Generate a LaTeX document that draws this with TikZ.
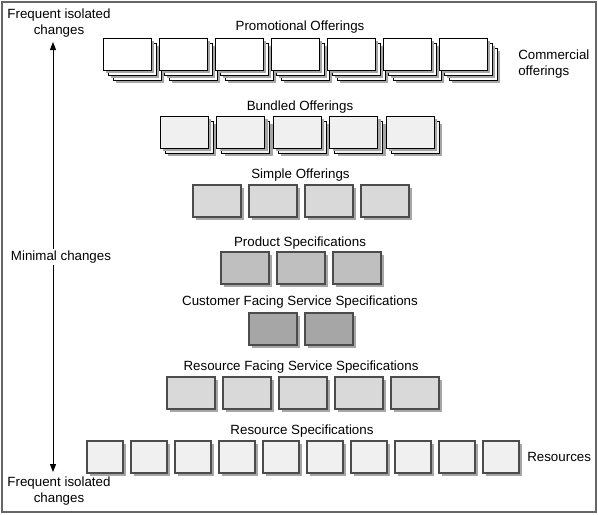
\documentclass[tikz,border=0pt]{standalone}
\usepackage{fontspec}
\setmainfont{Liberation Sans}
\usepackage{tikz}
\usetikzlibrary{shadows,arrows.meta}

\tikzset{
  lbl/.style={font=\fontsize{10}{12}\selectfont, inner sep=0pt, align=center},
  shd/.style={general shadow={fill=black!35, shadow xshift=2.25pt, shadow yshift=-2.25pt}},
  tile/.style={draw=black!70, line width=0.9pt, minimum width=36pt, minimum height=24pt, inner sep=0pt, shd},
  smalltile/.style={tile, minimum width=27pt},
  bundtile/.style={draw=black, line width=0.6pt, fill=black!6, minimum width=36pt, minimum height=24pt, inner sep=0pt,
    general shadow={fill=black!35, shadow xshift=6pt, shadow yshift=-6pt},
    general shadow={draw=black, line width=0.6pt, fill=black!6, shadow xshift=3.75pt, shadow yshift=-3.75pt},
    shd},
  promotile/.style={draw=black, line width=0.6pt, fill=white, minimum width=36pt, minimum height=24pt, inner sep=0pt,
    general shadow={fill=black!35, shadow xshift=9.75pt, shadow yshift=-9.75pt},
    general shadow={draw=black, line width=0.6pt, fill=white, shadow xshift=7.5pt, shadow yshift=-7.5pt},
    general shadow={fill=black!35, shadow xshift=6pt, shadow yshift=-6pt},
    general shadow={draw=black, line width=0.6pt, fill=white, shadow xshift=3.75pt, shadow yshift=-3.75pt},
    shd},
}

\begin{document}
\begin{tikzpicture}[x=0.75pt,y=0.75pt,yscale=-1,xscale=1]
\path[use as bounding box] (0,0) rectangle (598,514);

%Frame
\draw [color=black!60, line width=1pt] (2,2) rectangle (596,512);

%Promotional Offerings
\node [lbl] (lpromo) at (300,27) {Promotional Offerings};
\node [promotile] (promo1) at (127,54) {};
\node [promotile] (promo2) at (183,54) {};
\node [promotile] (promo3) at (239,54) {};
\node [promotile] (promo4) at (295,54) {};
\node [promotile] (promo5) at (351,54) {};
\node [promotile] (promo6) at (407,54) {};
\node [promotile] (promo7) at (463,54) {};
\node [lbl, align=left, anchor=west] (lcomm) at (518,64) {Commercial\\offerings};

%Bundled Offerings
\node [lbl] (lbund) at (300,107) {Bundled Offerings};
\node [bundtile] (bund1) at (184,132) {};
\node [bundtile] (bund2) at (240.5,132) {};
\node [bundtile] (bund3) at (297,132) {};
\node [bundtile] (bund4) at (353.5,132) {};
\node [bundtile] (bund5) at (410,132) {};

%Simple Offerings
\node [lbl] (lsimp) at (300.5,175) {Simple Offerings};
\node [tile, fill=black!15] (simp1) at (217,201) {};
\node [tile, fill=black!15] (simp2) at (273,201) {};
\node [tile, fill=black!15] (simp3) at (329,201) {};
\node [tile, fill=black!15] (simp4) at (385,201) {};

%Product Specifications
\node [lbl] (lprod) at (300,243) {Product Specifications};
\node [tile, fill=black!25] (prod1) at (245,268) {};
\node [tile, fill=black!25] (prod2) at (301,268) {};
\node [tile, fill=black!25] (prod3) at (357,268) {};

%Customer Facing Service Specifications
\node [lbl] (lcfs) at (300,302) {Customer Facing Service Specifications};
\node [tile, fill=black!35] (cfs1) at (273,329) {};
\node [tile, fill=black!35] (cfs2) at (329,329) {};

%Resource Facing Service Specifications
\node [lbl] (lrfs) at (301,367) {Resource Facing Service Specifications};
\node [tile, fill=black!15] (rfs1) at (191,393) {};
\node [tile, fill=black!15] (rfs2) at (247,393) {};
\node [tile, fill=black!15] (rfs3) at (303,393) {};
\node [tile, fill=black!15] (rfs4) at (359,393) {};
\node [tile, fill=black!15] (rfs5) at (415,393) {};

%Resource Specifications
\node [lbl] (lres) at (302,431) {Resource Specifications};
\node [smalltile, fill=black!6] (res1) at (105,457) {};
\node [smalltile, fill=black!6] (res2) at (149,457) {};
\node [smalltile, fill=black!6] (res3) at (193,457) {};
\node [smalltile, fill=black!6] (res4) at (237,457) {};
\node [smalltile, fill=black!6] (res5) at (281,457) {};
\node [smalltile, fill=black!6] (res6) at (325,457) {};
\node [smalltile, fill=black!6] (res7) at (369,457) {};
\node [smalltile, fill=black!6] (res8) at (413,457) {};
\node [smalltile, fill=black!6] (res9) at (457,457) {};
\node [smalltile, fill=black!6] (res10) at (501,457) {};
\node [lbl, anchor=west] (lresources) at (527,457) {Resources};

%Change frequency axis
\node [lbl] (ftop) at (59,23) {Frequent isolated\\changes};
\node [lbl] (fbot) at (59,491) {Frequent isolated\\changes};
\coordinate (atop) at (53,42);
\coordinate (abot) at (53,472);
\draw [{Triangle[width=4.5pt,length=6pt]}-{Triangle[width=4.5pt,length=6pt]}, line width=0.75pt] (atop) -- (abot);
\node [lbl, fill=white, inner sep=1pt] (lmin) at (61,257) {Minimal changes};

\end{tikzpicture}
\end{document}
